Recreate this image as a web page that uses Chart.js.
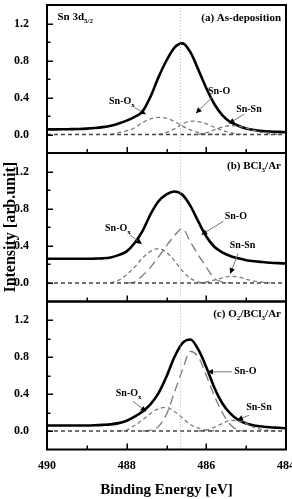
<!DOCTYPE html>
<html><head><meta charset="utf-8">
<script src="https://cdn.jsdelivr.net/npm/chart.js@4/dist/chart.umd.min.js"></script>
<style>
html,body{margin:0;padding:0;background:#fff;}
#wrap{position:relative;width:292px;height:499px;background:#fff;}
#wrap canvas{position:absolute;left:0;top:0;}
</style></head><body>
<div id="wrap">
<canvas id="ca" width="292" height="499" style="width:292px;height:499px"></canvas>
<canvas id="cb" width="292" height="499" style="width:292px;height:499px"></canvas>
<canvas id="cc" width="292" height="499" style="width:292px;height:499px"></canvas>
</div>
<script>
// ---- data ----
const energy = [490.0,489.8,489.6,489.4,489.2,489.0,488.8,488.6,488.4,488.2,488.0,487.8,487.6,487.4,487.2,487.0,486.8,486.6,486.4,486.2,486.0,485.8,485.6,485.4,485.2,485.0,484.8,484.6,484.4,484.2,484.0];
const xTickLabels = [490, 488, 486, 484];
const yTickLabels = [0.0, 0.4, 0.8, 1.2];
const refEnergy = 486.65;
const zeroLineEnergy = [490, 484];
const zeroLine = [0, 0];

// (a) As-deposition
const aTotal = [0.055,0.055,0.056,0.058,0.060,0.064,0.070,0.080,0.095,0.120,0.150,0.190,0.250,0.410,0.620,0.800,0.940,0.985,0.890,0.700,0.500,0.330,0.210,0.135,0.095,0.065,0.048,0.038,0.032,0.028,0.025];
const aSnOx  = [null,null,null,null,null,null,null,null,0,0.02,0.04,0.07,0.13,0.17,0.185,0.175,0.14,0.09,0.05,0.02,0.005,0,null,null,null,null,null,null,null,null,null];
const aSnO   = [null,null,null,null,null,null,null,null,null,null,null,null,null,null,0,0.02,0.06,0.11,0.145,0.14,0.115,0.08,0.045,0.02,0.005,0,null,null,null,null,null];
const aSnSn  = [null,null,null,null,null,null,null,null,null,null,null,null,null,null,null,null,null,null,null,0,0.02,0.05,0.08,0.095,0.09,0.07,0.045,0.02,0.008,0,null];

// (b) BCl3/Ar
const bTotal = [0.26,0.26,0.26,0.26,0.26,0.26,0.262,0.265,0.275,0.30,0.34,0.43,0.56,0.74,0.88,0.955,0.985,0.95,0.83,0.66,0.50,0.39,0.33,0.29,0.265,0.245,0.233,0.225,0.218,0.213,0.21];
const bSnOx  = [null,null,null,null,null,null,null,null,0,0.03,0.09,0.17,0.27,0.34,0.37,0.33,0.24,0.13,0.05,0.01,0,null,null,null,null,null,null,null,null,null,null];
const bSnO   = [null,null,null,null,null,null,null,null,null,null,0,0.01,0.08,0.17,0.28,0.40,0.51,0.585,0.44,0.30,0.17,0.05,0.01,0,null,null,null,null,null,null,null];
const bSnSn  = [null,null,null,null,null,null,null,null,null,null,null,null,null,null,null,null,null,null,null,0,0.01,0.03,0.055,0.07,0.065,0.04,0.02,0.008,0,null,null];

// (c) O2/BCl3/Ar
const cTotal = [0.06,0.06,0.06,0.06,0.06,0.06,0.062,0.066,0.072,0.085,0.11,0.155,0.21,0.29,0.41,0.59,0.80,0.95,0.99,0.88,0.69,0.47,0.30,0.19,0.12,0.08,0.06,0.048,0.04,0.035,0.03];
const cSnOx  = [null,null,null,null,null,null,null,null,null,0,0.01,0.06,0.12,0.19,0.24,0.255,0.21,0.14,0.07,0.03,0.01,0,null,null,null,null,null,null,null,null,null];
const cSnO   = [null,null,null,null,null,null,null,null,null,null,null,null,0,0.01,0.05,0.18,0.42,0.66,0.86,0.80,0.60,0.38,0.20,0.07,0.01,0,null,null,null,null,null];
const cSnSn  = [null,null,null,null,null,null,null,null,null,null,null,null,null,null,null,null,null,null,null,0,0.01,0.04,0.08,0.115,0.11,0.08,0.04,0.015,0.005,0,null];

// ---- drawing ----
const FAM = "'Liberation Serif','Times New Roman',serif";
Chart.defaults.font.family = FAM;
Chart.defaults.color = '#000';

const annotA = [
  {parts:[{t:'Sn-O'},{t:'x',sub:true}], x:488.12, y:0.36, align:'center', from:[487.80,0.29], to:[487.52,0.22]},
  {parts:[{t:'Sn-O'}], x:485.68, y:0.47, align:'center', from:[485.86,0.40], to:[486.26,0.23]},
  {parts:[{t:'Sn-Sn'}], x:484.93, y:0.27, align:'center', from:[485.05,0.22], to:[485.43,0.12]}
];
const annotB = [
  {parts:[{t:'Sn-O'},{t:'x',sub:true}], x:488.22, y:0.59, align:'center', from:[487.93,0.52], to:[487.62,0.42]},
  {parts:[{t:'Sn-O'}], x:485.26, y:0.72, align:'center', from:[485.57,0.665], to:[486.12,0.52]},
  {parts:[{t:'Sn-Sn'}], x:485.09, y:0.40, align:'center', from:[485.20,0.32], to:[485.40,0.10]}
];
const annotC = [
  {parts:[{t:'Sn-O'},{t:'x',sub:true}], x:487.95, y:0.41, align:'center', from:[487.84,0.32], to:[487.51,0.21]},
  {parts:[{t:'Sn-O'}], x:485.30, y:0.64, align:'left', from:[485.36,0.64], to:[485.97,0.64]},
  {parts:[{t:'Sn-Sn'}], x:484.68, y:0.26, align:'center', from:[484.93,0.17], to:[485.22,0.12]}
];

const panels = [
  {id:'ca', total:aTotal, snOx:aSnOx, snO:aSnO, snSn:aSnSn, snODash:[4,3], pad:{top:5,bottom:346},
   title:[{t:'(a) As-deposition'}], annots:annotA, core:true, bottom:false, yTitle:false},
  {id:'cb', total:bTotal, snOx:bSnOx, snO:bSnO, snSn:bSnSn, snODash:[9,5], pad:{top:153,bottom:197.5},
   title:[{t:'(b) BCl'},{t:'3',sub:true},{t:'/Ar'}], annots:annotB, core:false, bottom:false, yTitle:true},
  {id:'cc', total:cTotal, snOx:cSnOx, snO:cSnO, snSn:cSnSn, snODash:[9,5], pad:{top:301.5,bottom:0},
   title:[{t:'(c) O'},{t:'2',sub:true},{t:'/BCl'},{t:'3',sub:true},{t:'/Ar'}], annots:annotC, core:false, bottom:true, yTitle:false}
];

function pts(arr){ return energy.map((e,i)=>({x:e,y:arr[i]})).filter(p=>p.y!==null); }
function isLabel(v, list){ return list.some(l=>Math.abs(l-v)<1e-6); }

function drawRich(ctx, parts, x, y, align, size){
  const main = `bold ${size}px ${FAM}`, sub = `bold ${Math.round(size*0.65)}px ${FAM}`;
  let w = 0;
  parts.forEach(p=>{ ctx.font = p.sub?sub:main; w += ctx.measureText(p.t).width; });
  let cx = align==='right' ? x-w : align==='center' ? x-w/2 : x;
  ctx.textBaseline='middle'; ctx.textAlign='left'; ctx.fillStyle='#000';
  parts.forEach(p=>{ ctx.font = p.sub?sub:main; ctx.fillText(p.t, cx, p.sub ? y+size*0.38 : y); cx += ctx.measureText(p.t).width; });
}
function drawArrow(ctx, x1,y1,x2,y2){
  ctx.save();
  ctx.strokeStyle='#777'; ctx.lineWidth=1; ctx.setLineDash([]);
  ctx.beginPath(); ctx.moveTo(x1,y1); ctx.lineTo(x2,y2); ctx.stroke();
  const a = Math.atan2(y2-y1,x2-x1), L=5.5, W=2.8;
  const bx = x2-L*Math.cos(a), by = y2-L*Math.sin(a);
  ctx.fillStyle='#000'; ctx.beginPath();
  ctx.moveTo(x2,y2);
  ctx.lineTo(bx+W*Math.sin(a), by-W*Math.cos(a));
  ctx.lineTo(bx-W*Math.sin(a), by+W*Math.cos(a));
  ctx.closePath(); ctx.fill();
  ctx.restore();
}

const decor = {
  id:'decor',
  afterDraw(chart){
    const p = chart.options.plugins.decor;
    const {ctx, chartArea:ca} = chart;
    const xs = chart.scales.x, ys = chart.scales.y;
    ctx.save();
    ctx.setLineDash([]);
    ctx.strokeStyle='#000'; ctx.lineWidth=1.5;
    ys.ticks.forEach(t=>{
      if (t.value<=ys.min+1e-6 || t.value>=ys.max-1e-6) return;
      const py = Math.round(ys.getPixelForValue(t.value))+0.25;
      const len = isLabel(t.value,yTickLabels)?6:3.5;
      ctx.beginPath(); ctx.moveTo(ca.left,py); ctx.lineTo(ca.left+len,py); ctx.stroke();
    });
    xs.ticks.forEach(t=>{
      if (t.value<=xs.min+1e-6 || t.value>=xs.max-1e-6) return;
      const px = Math.round(xs.getPixelForValue(t.value))+0.25;
      const len = isLabel(t.value,xTickLabels)?6:4;
      ctx.beginPath(); ctx.moveTo(px,ca.bottom); ctx.lineTo(px,ca.bottom-len); ctx.stroke();
    });
    ctx.lineWidth=2; ctx.strokeStyle='#000';
    ctx.strokeRect(ca.left, ca.top, ca.right-ca.left, ca.bottom-ca.top);
    p.annots.forEach(a=>{
      drawArrow(ctx, xs.getPixelForValue(a.from[0]), ys.getPixelForValue(a.from[1]),
                     xs.getPixelForValue(a.to[0]), ys.getPixelForValue(a.to[1]));
      drawRich(ctx, a.parts, xs.getPixelForValue(a.x), ys.getPixelForValue(a.y), a.align, 10);
    });
    drawRich(ctx, p.title, ca.right-5, ca.top+13, 'right', 11);
    if (p.core) drawRich(ctx, [{t:'Sn 3d'},{t:'5/2',sub:true}], ca.left+10.5, ca.top+12, 'left', 11);
    ctx.restore();
  }
};

panels.forEach(P=>{
  const gray = '#7a7a7a';
  new Chart(document.getElementById(P.id), {
    type:'line',
    data:{ datasets:[
      {label:'ref', data:[{x:refEnergy,y:-0.2},{x:refEnergy,y:1.4}], borderColor:'#b8b8b8', borderWidth:1, borderDash:[1,2], pointRadius:0},
      {label:'zero', data:zeroLineEnergy.map((e,i)=>({x:e,y:zeroLine[i]})), borderColor:'#444', borderWidth:1.5, borderDash:[4,3], pointRadius:0},
      {label:'Sn-Ox', data:pts(P.snOx), borderColor:gray, borderWidth:1.3, borderDash:[4,3], pointRadius:0, cubicInterpolationMode:'monotone'},
      {label:'Sn-O', data:pts(P.snO), borderColor:gray, borderWidth:1.3, borderDash:P.snODash, pointRadius:0, cubicInterpolationMode:'monotone'},
      {label:'Sn-Sn', data:pts(P.snSn), borderColor:gray, borderWidth:1.3, borderDash:[4,3], pointRadius:0, cubicInterpolationMode:'monotone'},
      {label:'Total', data:pts(P.total), borderColor:'#000', borderWidth:2.6, pointRadius:0, cubicInterpolationMode:'monotone'}
    ]},
    options:{
      responsive:false, animation:false, devicePixelRatio:1,
      layout:{padding:{left:0, right:6, top:P.pad.top, bottom:P.pad.bottom}},
      plugins:{ legend:{display:false}, tooltip:{enabled:false}, decor:{title:P.title, annots:P.annots, core:P.core} },
      scales:{
        x:{ type:'linear', min:484, max:490, reverse:true,
            grid:{display:false}, border:{display:false},
            ticks:{ display:P.bottom, stepSize:1, autoSkip:false, maxRotation:0, padding:1,
                    font:{family:FAM, size:12, weight:'bold'}, color:'#000',
                    callback:v=> isLabel(v,xTickLabels) ? String(v) : '' },
            title:{ display:P.bottom, text:'Binding Energy [eV]', font:{family:FAM, size:15, weight:'bold'}, color:'#000', padding:{top:0,bottom:0} },
            afterFit:s=>{ s.height = P.bottom ? 49.5 : 0; s.paddingLeft=0; s.paddingRight=0; } },
        y:{ type:'linear', min:-0.2, max:1.4,
            grid:{display:false}, border:{display:false},
            ticks:{ stepSize:0.2, autoSkip:false, padding:10,
                    font:{family:FAM, size:12, weight:'bold'}, color:'#000',
                    callback:v=> isLabel(v,yTickLabels) ? (Math.abs(v)<1e-9 ? '0.0' : Number(v).toFixed(1)) : '' },
            title:{ display:P.yTitle, text:'Intensity [arb.unit]', font:{family:FAM, size:16, weight:'bold'}, color:'#000', padding:{top:1,bottom:0} },
            afterFit:s=>{ s.width = 47; s.paddingTop=0; s.paddingBottom=0; } }
      }
    },
    plugins:[decor]
  });
});
</script>
</body></html>
